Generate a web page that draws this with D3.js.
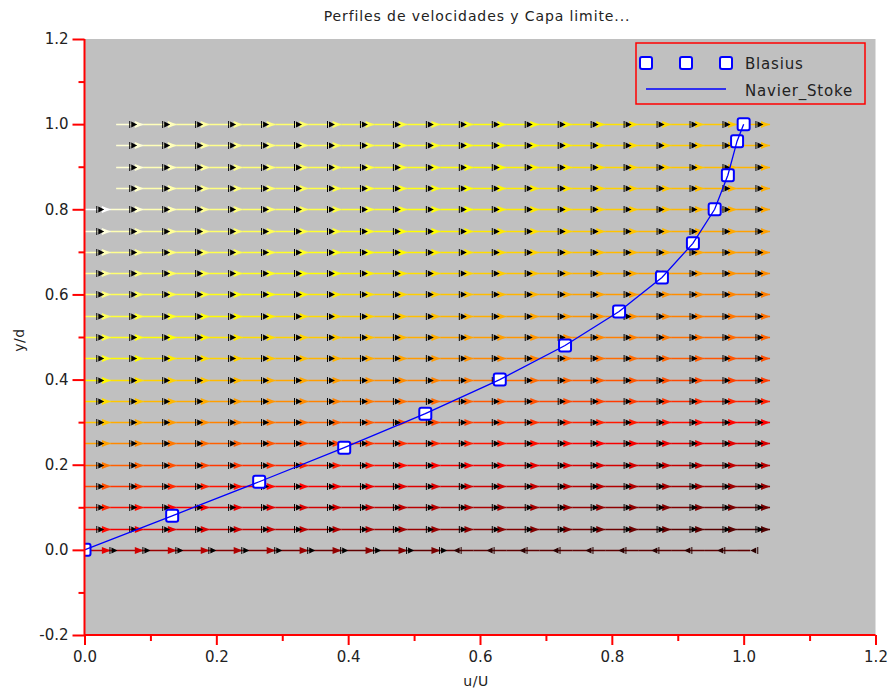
<!DOCTYPE html>
<html>
<head>
<meta charset="utf-8">
<script src="https://cdn.jsdelivr.net/npm/d3@7"></script>
<style>
  html, body { margin: 0; padding: 0; background: #ffffff; }
  svg { display: block; }
  text { font-family: "DejaVu Sans", sans-serif; fill: #222; }
</style>
</head>
<body>
<svg id="chart" width="891" height="690"></svg>
<script>
// ---- Data -------------------------------------------------------------
const chartTitle = "Perfiles de velocidades y Capa limite...";
const xLabel = "u/U";
const yLabel = "y/d";
const xTicks = [0.0, 0.2, 0.4, 0.6, 0.8, 1.0, 1.2];
const yTicks = [-0.2, 0.0, 0.2, 0.4, 0.6, 0.8, 1.0, 1.2];

// Blasius profile (markers)
const blasiusU = [0, 0.133, 0.265, 0.394, 0.517, 0.630, 0.729, 0.811, 0.876, 0.923, 0.956, 0.976, 0.990, 1.0];
const blasiusY = [0, 0.08, 0.16, 0.24, 0.32, 0.40, 0.48, 0.56, 0.64, 0.72, 0.80, 0.88, 0.96, 1.0];
// Navier-Stokes profile (line)
const nsU = [0, 0.133, 0.265, 0.394, 0.517, 0.630, 0.729, 0.811, 0.876, 0.923, 0.956, 0.976, 0.990, 1.0];
const nsY = [0, 0.08, 0.16, 0.24, 0.32, 0.40, 0.48, 0.56, 0.64, 0.72, 0.80, 0.88, 0.96, 1.0];

// Velocity field grid
const fieldX = [0, 0.05, 0.10, 0.15, 0.20, 0.25, 0.30, 0.35, 0.40, 0.45, 0.50,
                0.55, 0.60, 0.65, 0.70, 0.75, 0.80, 0.85, 0.90, 0.95, 1.00];
const fieldY = [1.00, 0.95, 0.90, 0.85, 0.80, 0.75, 0.70, 0.65, 0.60, 0.55, 0.50,
                0.45, 0.40, 0.35, 0.30, 0.25, 0.20, 0.15, 0.10, 0.05, 0.00];
// first grid column drawn in each row
const rowFirstCol = [1, 1, 1, 1, 0, 0, 0, 0, 0, 0, 0, 0, 0, 0, 0, 0, 0, 0, 0, 0, 0];
// colour level (hot colormap, 0..1) at the left and right end of each row
const levelLeft  = [1.00, 1.00, 1.00, 0.99, 1.00, 0.97, 0.93, 0.90, 0.87, 0.84, 0.81,
                    0.78, 0.74, 0.70, 0.66, 0.61, 0.55, 0.49, 0.43, 0.39, 0.34];
const levelRight = [0.66, 0.65, 0.64, 0.63, 0.62, 0.61, 0.60, 0.58, 0.56, 0.54, 0.52,
                    0.49, 0.46, 0.42, 0.37, 0.32, 0.27, 0.22, 0.17, 0.12, 0.08];
// direction of the wall-row arrows (1 = downstream, -1 = upstream)
const wallDir = [1, 1, 1, 1, 1, 1, 1, 1, 1, 1, 1, -1, -1, -1, -1, -1, -1, -1, -1, -1, -1];

// ---- Layout -----------------------------------------------------------
const svg = d3.select("#chart");
const x = d3.scaleLinear().domain([0, 1.2]).range([84.5, 875.5]);
const y = d3.scaleLinear().domain([-0.2, 1.2]).range([635, 39]);
const red = "#ff0000";
const blue = "#0000ff";

// hot colormap
function hot(t) {
  t = Math.max(0, Math.min(1, t));
  const r = Math.min(1, t / 0.375);
  const g = Math.max(0, Math.min(1, (t - 0.375) / 0.375));
  const b = Math.max(0, Math.min(1, (t - 0.75) / 0.25));
  return d3.rgb(r * 255, g * 255, b * 255).formatHex();
}

// plot background
svg.append("rect")
  .attr("x", x(0)).attr("y", y(1.2))
  .attr("width", x(1.2) - x(0)).attr("height", y(-0.2) - y(1.2))
  .attr("fill", "#c0c0c0");

svg.append("clipPath").attr("id", "plotClip")
  .append("rect")
  .attr("x", x(0)).attr("y", y(1.2))
  .attr("width", x(1.2) - x(0)).attr("height", y(-0.2) - y(1.2));

const plot = svg.append("g").attr("clip-path", "url(#plotClip)");

// ---- Velocity field ---------------------------------------------------
const headLen = 9, headHalf = 3.5;
function headPath(px, py, dir, len, half) {
  return `M${px},${py} L${px - dir * len},${py - half} L${px - dir * len},${py + half} Z`;
}
function blackHead(px, py, dir) {
  // small dark barbed arrowhead
  return `M${px},${py} L${px - dir * 6},${py - 3} L${px - dir * 6},${py + 3} Z` +
         ` M${px - dir * 8},${py - 3.5} L${px - dir * 7},${py - 3.5} L${px - dir * 7},${py + 3.5} L${px - dir * 8},${py + 3.5} Z`;
}

const field = plot.append("g");
fieldY.forEach((fy, r) => {
  const py = Math.round(y(fy)) + 0.5;
  const isWall = fy === 0;
  const lineStart = rowFirstCol[r] === 0 ? 0 : fieldX[rowFirstCol[r]] - 0.002;
  const lineEnd = isWall ? fieldX[fieldX.length - 1] + 0.01 : fieldX[fieldX.length - 1] + 0.04;
  const level = (fx) => {
    const s = Math.pow(Math.min(1, fx / 1.0), 0.7);
    return levelLeft[r] + (levelRight[r] - levelLeft[r]) * s;
  };
  // coloured shafts
  for (let i = rowFirstCol[r]; i < fieldX.length; i++) {
    const a = Math.max(lineStart, fieldX[i] - 0.01);
    const b = Math.min(lineEnd, fieldX[i] + 0.04);
    field.append("line")
      .attr("x1", x(a)).attr("x2", x(b))
      .attr("y1", py).attr("y2", py)
      .attr("stroke", hot(isWall ? Math.max(0.14, level(fieldX[i]) - 0.06) : level(fieldX[i])))
      .attr("stroke-width", 1.6);
  }
  // arrowheads
  for (let i = rowFirstCol[r]; i < fieldX.length; i++) {
    const c = hot(level(fieldX[i]));
    const dir = isWall ? wallDir[i] : 1;
    const hx = isWall && dir < 0 ? x(fieldX[i] + 0.01) : x(fieldX[i] + 0.04);
    const bx = dir < 0 ? hx : x(fieldX[i] + (isWall ? 0.05 : 0.03));
    if (!(isWall && dir < 0)) {
      field.append("path").attr("d", headPath(hx, py, dir, headLen, headHalf)).attr("fill", c);
    }
    field.append("path").attr("d", blackHead(bx, py, dir))
      .attr("fill", isWall && dir < 0 ? "#2a0000" : "#000");
  }
});

// ---- Profiles ---------------------------------------------------------
const blasius = blasiusU.map((u, i) => ({ u, y: blasiusY[i] }));
const ns = nsU.map((u, i) => ({ u, y: nsY[i] }));

plot.append("g").selectAll("rect")
  .data(blasius).join("rect")
  .attr("x", d => x(d.u) - 6).attr("y", d => y(d.y) - 6)
  .attr("width", 12).attr("height", 12).attr("rx", 2)
  .attr("fill", "#ffffff").attr("stroke", blue).attr("stroke-width", 2);

plot.append("path")
  .datum(ns)
  .attr("d", d3.line().x(d => x(d.u)).y(d => y(d.y)))
  .attr("fill", "none").attr("stroke", blue).attr("stroke-width", 1.3);

// ---- Axes -------------------------------------------------------------
const fmt = v => d3.format(".1f")(v).replace("\u2212", "-");
const yAxis = svg.append("g").attr("transform", `translate(${x(0)},0)`)
  .call(d3.axisLeft(y).tickValues(yTicks).tickFormat(fmt).tickSize(12).tickPadding(4));
const yMinor = svg.append("g").attr("transform", `translate(${x(0)},0)`)
  .call(d3.axisLeft(y).tickValues(d3.range(-0.1, 1.2, 0.2)).tickFormat("").tickSize(6));
const xAxis = svg.append("g").attr("transform", `translate(0,${y(-0.2)})`)
  .call(d3.axisBottom(x).tickValues(xTicks).tickFormat(fmt).tickSize(10).tickPadding(6));
const xMinor = svg.append("g").attr("transform", `translate(0,${y(-0.2)})`)
  .call(d3.axisBottom(x).tickValues(d3.range(0.1, 1.2, 0.2)).tickFormat("").tickSize(6));

[yAxis, yMinor, xAxis, xMinor].forEach(g => {
  g.selectAll(".domain").attr("stroke", red).attr("stroke-width", 2);
  g.selectAll(".tick line").attr("stroke", red).attr("stroke-width", 2);
  g.selectAll(".tick text").attr("fill", "#222")
    .style("font-family", "DejaVu Sans, sans-serif").style("font-size", "15px");
});
yAxis.select(".domain").attr("d", `M0,${y(-0.2)}V${y(1.2)}`);
xAxis.select(".domain").attr("d", `M${x(0)},0H${x(1.2)}`);
yMinor.select(".domain").remove();
xMinor.select(".domain").remove();

// ---- Titles -----------------------------------------------------------
svg.append("text").attr("x", 477).attr("y", 21).attr("text-anchor", "middle")
  .style("font-size", "14px").style("letter-spacing", "0.9px").text(chartTitle);
svg.append("text").attr("x", 476).attr("y", 686).attr("text-anchor", "middle")
  .style("font-size", "14px").style("letter-spacing", "0.5px").text(xLabel);
svg.append("text").attr("transform", "translate(24,340) rotate(-90)")
  .attr("text-anchor", "middle").style("font-size", "14px").style("letter-spacing", "0.5px").text(yLabel);

// ---- Legend -----------------------------------------------------------
const legend = svg.append("g");
legend.append("rect").attr("x", 636).attr("y", 43).attr("width", 229).attr("height", 61)
  .attr("fill", "none").attr("stroke", red).attr("stroke-width", 1.5);
[646, 686, 726].forEach(cx => {
  legend.append("rect").attr("x", cx - 6).attr("y", 57).attr("width", 12).attr("height", 12)
    .attr("rx", 2).attr("fill", "#ffffff").attr("stroke", blue).attr("stroke-width", 2);
});
legend.append("line").attr("x1", 646).attr("x2", 726).attr("y1", 89).attr("y2", 89)
  .attr("stroke", blue).attr("stroke-width", 1.3);
legend.append("text").attr("x", 745).attr("y", 69).style("font-size", "15px")
  .style("letter-spacing", "0.8px").text("Blasius");
legend.append("text").attr("x", 745).attr("y", 96).style("font-size", "15px")
  .style("letter-spacing", "0.8px").text("Navier_Stoke");
</script>
</body>
</html>
